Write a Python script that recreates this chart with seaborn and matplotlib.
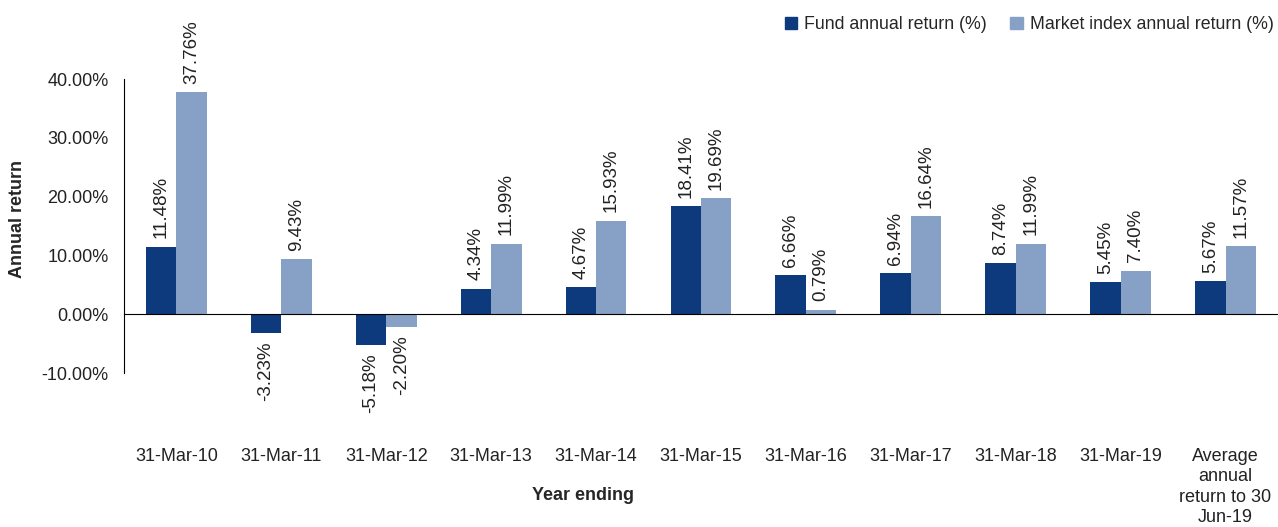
import pandas as pd
import matplotlib
matplotlib.use("Agg")
import matplotlib.pyplot as plt
import matplotlib.transforms as mtransforms
from matplotlib.ticker import FuncFormatter, FixedLocator
import seaborn as sns

# Data
years = ["31-Mar-10", "31-Mar-11", "31-Mar-12", "31-Mar-13", "31-Mar-14",
         "31-Mar-15", "31-Mar-16", "31-Mar-17", "31-Mar-18", "31-Mar-19",
         "Average\nannual\nreturn to 30\nJun-19"]
fund = [11.48, -3.23, -5.18, 4.34, 4.67, 18.41, 6.66, 6.94, 8.74, 5.45, 5.67]
market = [37.76, 9.43, -2.20, 11.99, 15.93, 19.69, 0.79, 16.64, 11.99, 7.40, 11.57]
series = ["Fund annual return (%)", "Market index annual return (%)"]
colors = ["#0c3a7d", "#87a0c5"]


def main():
    df = pd.DataFrame({
        "year": years * 2,
        "value": fund + market,
        "series": [series[0]] * len(years) + [series[1]] * len(years),
    })

    sns.set_style("white")
    plt.rcParams["font.family"] = ["Liberation Sans", "DejaVu Sans"]
    txt = "#222222"

    fig = plt.figure(figsize=(12.78, 5.27), dpi=100)
    ax = fig.add_axes([0.097, 0.292, 0.903, 0.558])

    sns.barplot(data=df, x="year", y="value", hue="series", hue_order=series,
                palette=colors, width=0.58, gap=0, saturation=1, linewidth=0,
                order=years, ax=ax, legend=False)

    ax.set_ylim(-10, 40)
    ax.set_xlim(-0.5, len(years) - 0.5)
    ax.yaxis.set_major_locator(FixedLocator([-10, 0, 10, 20, 30, 40]))
    ax.yaxis.set_major_formatter(FuncFormatter(lambda v, p: f"{v:.2f}%"))
    ax.tick_params(axis="y", length=0, labelsize=13, pad=11, colors=txt)

    # bottom axis at zero, small ticks between categories
    for s in ["top", "right"]:
        ax.spines[s].set_visible(False)
    ax.spines["bottom"].set_position(("data", 0))
    ax.spines["left"].set_color("black")
    ax.spines["bottom"].set_color("black")
    ax.set_xticks([i - 0.5 for i in range(len(years) + 1)])
    ax.set_xticklabels([])
    ax.tick_params(axis="x", direction="out", length=5, width=1, color="black")
    ax.set_xlabel("")
    ax.set_ylabel("")

    # category labels below the plot area
    trans = mtransforms.blended_transform_factory(ax.transData, ax.transAxes)
    for i, lab in enumerate(years):
        ax.text(i, -0.255, lab, transform=trans, ha="center", va="top",
                fontsize=13, color=txt, linespacing=1.25)

    # value labels
    for cont in ax.containers:
        ax.bar_label(cont, fmt="{:.2f}%", rotation=90, padding=6,
                     fontsize=13.5, color=txt)

    fig.text(0.456, 0.06, "Year ending", ha="center", va="center",
             fontsize=13, fontweight="bold")
    fig.text(0.014, 0.585, "Annual return", ha="center", va="center",
             rotation=90, fontsize=13, fontweight="bold")

    handles = [plt.Rectangle((0, 0), 1, 1, color=c) for c in colors]
    fig.legend(handles, series, loc="upper right", bbox_to_anchor=(1.009, 1.0),
               ncol=2, frameon=False, fontsize=12.8, handlelength=0.7,
               handleheight=0.7, handletextpad=0.4, columnspacing=1.3)

    fig.savefig("out.png", dpi=100)


if __name__ == "__main__":
    main()
